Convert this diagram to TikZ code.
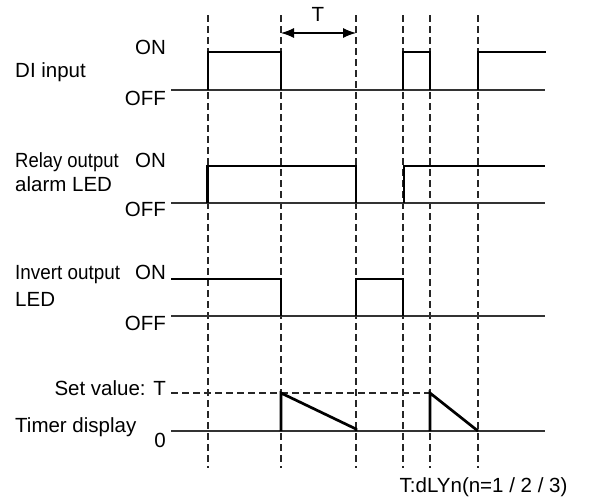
\documentclass[tikz,border=0pt]{standalone}
\usepackage{fontspec}
\setmainfont{Liberation Sans}
\usetikzlibrary{arrows.meta}
\begin{document}
\begin{tikzpicture}[x=1pt,y=-1pt,
  lbl/.style={inner sep=0pt,font=\fontsize{20.5}{24}\selectfont},
  lvl/.style={lbl,anchor=base east},
  lname/.style={lbl,anchor=base west},
  guide/.style={line width=1.1pt,dash pattern=on 7pt off 4pt,black!85},
  bline/.style={line width=1.1pt,black!80},
  sig/.style={line width=2.7pt,line join=miter},
  dimarrow/.style={line width=1.1pt,{Latex[length=13pt,width=10pt]}-{Latex[length=13pt,width=10pt]}}]
\useasboundingbox (0,0) rectangle (589,498);
% vertical guides
\foreach \x/\n in {208/a,281/b,356/c,403/d,430/e,478/f}{
  \coordinate (top\n) at (\x,15);
  \coordinate (bot\n) at (\x,468);
  \draw[guide] (top\n) -- (bot\n);
}
% baselines
\foreach \y/\n in {90/di,203/re,316/iv,431/tm}{
  \coordinate (L\n) at (171,\y);
  \coordinate (R\n) at (545,\y);
  \draw[bline] (L\n) -- (R\n);
}
% set value dashed line
\coordinate (sv0) at (171,393);
\coordinate (sv1) at (430,393);
\draw[guide] (sv0) -- (sv1);
% T arrow
\coordinate (ta) at (281,33);
\coordinate (tb) at (356,33);
\draw[dimarrow] (ta) -- (tb);
\node[lbl,anchor=base] (tlab) at (318,21) {T};
% DI input signal
\draw[sig] (208,90) -- (208,52) -- (281,52) -- (281,90);
\draw[sig] (403,90) -- (403,52) -- (430,52) -- (430,90);
\draw[sig] (478,90) -- (478,52) -- (546,52);
% Relay output
\draw[sig] (207.5,203) -- (207.5,166) -- (356,166) -- (356,203);
\draw[sig] (404,203) -- (404,166) -- (545,166);
% Invert output
\draw[sig] (171,279) -- (281,279) -- (281,316);
\draw[sig] (356,316) -- (356,279) -- (403,279) -- (403,316);
% Timer display
\draw[sig] (281,431) -- (281,393) -- (356,429) -- (356,431);
\draw[sig] (430,431) -- (430,393) -- (478,431);
% labels
\node[lname] (n1) at (15,77) {DI input};
\node[lvl] (on1) at (166,54) {ON};
\node[lvl] (off1) at (166,105) {OFF};
\node[lname] (n2) at (15,167) {\scalebox{0.9}[1]{Relay output}};
\node[lname] (n2b) at (15,191) {alarm LED};
\node[lvl] (on2) at (166,167) {ON};
\node[lvl] (off2) at (166,216) {OFF};
\node[lname] (n3) at (15,279.5) {\scalebox{0.92}[1]{Invert output}};
\node[lname] (n3b) at (15,306) {LED};
\node[lvl] (on3) at (166,279.5) {ON};
\node[lvl] (off3) at (166,330) {OFF};
\node[lvl] (sv) at (166,395) {Set value: T};
\node[lname] (n4) at (15,432) {Timer display};
\node[lvl] (zero) at (166,447) {0};
\node[lbl,anchor=base west] (foot) at (399.5,492) {T:dLYn(n=1 / 2 / 3)};
\end{tikzpicture}
\end{document}
